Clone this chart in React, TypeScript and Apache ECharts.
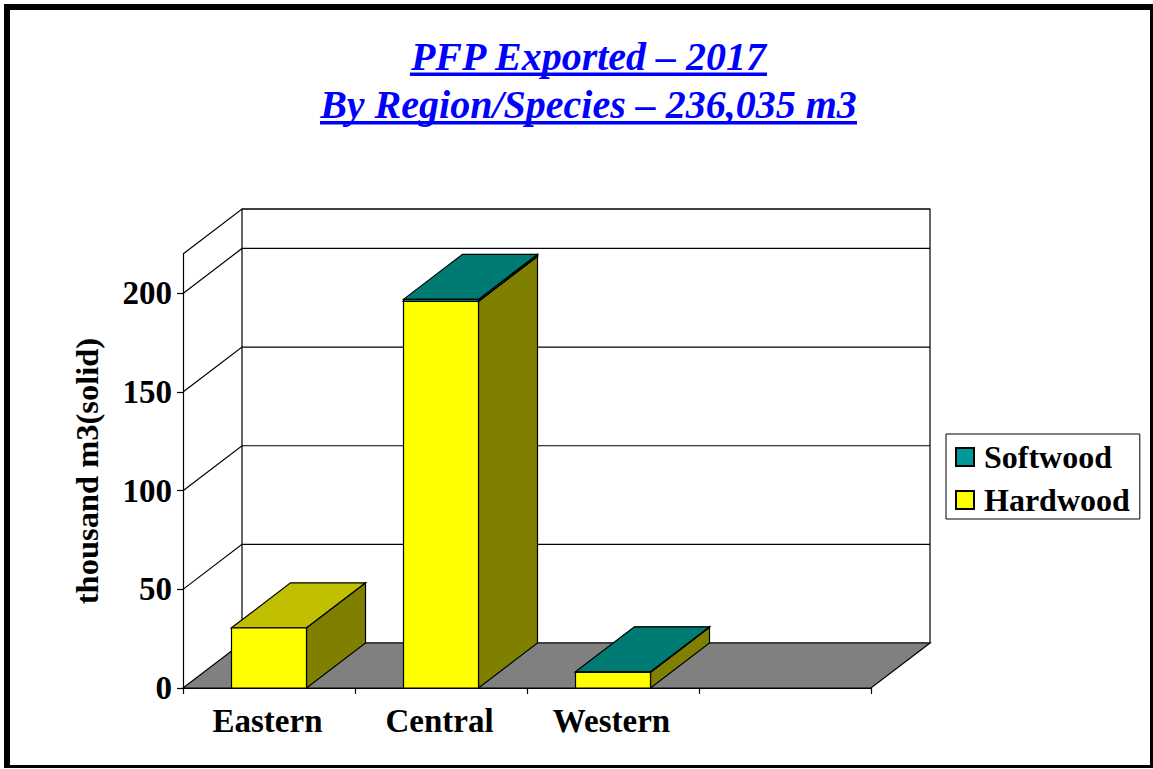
import React, { useEffect, useRef } from "react";
import * as echarts from "echarts";

const categories = ["Eastern", "Central", "Western", ""];
const hardwood = [30.5, 196, 8, 0];
const softwood = [0, 1, 0.2, 0];
const yTicks = [0, 50, 100, 150, 200];
const yMax = 220;
const titleLines = ["PFP Exported \u2013 2017", "By Region/Species \u2013 236,035 m3"];
const axisName = "thousand m3(solid)";

const FONT = "Liberation Serif";
const DX = 59;
const DY = -45;
const BAR_W = 75;
const STROKE = { stroke: "#000", lineWidth: 1.2 };

const hardColors = { front: "#ffff00", side: "#808000", top: "#c0c000" };
const softColors = { front: "#009999", side: "#004c4c", top: "#007b73" };

function wallItem(params: any, api: any) {
  const v = api.value(0);
  const c = params.coordSys;
  const left = c.x;
  const right = c.x + c.width;
  const y = api.coord([0, v])[1];
  const children: any[] = [];
  if (v === 0) {
    const topY = api.coord([0, yMax])[1];
    children.push({
      type: "rect",
      shape: { x: left + DX, y: topY + DY, width: c.width, height: y - topY },
      style: { fill: "#fff", ...STROKE },
    });
    children.push({
      type: "polygon",
      shape: { points: [[left, y], [left + DX, y + DY], [right + DX, y + DY], [right, y]] },
      style: { fill: "#808080", ...STROKE },
    });
    return { type: "group", children };
  }
  children.push({
    type: "polyline",
    shape: { points: [[left, y], [left + DX, y + DY], [right + DX, y + DY]] },
    style: { fill: "none", ...STROKE },
  });
  return { type: "group", children };
}

function barItem(colors: typeof hardColors) {
  return (_params: any, api: any) => {
    const idx = api.value(0);
    const base = api.value(1);
    const val = api.value(2);
    if (!val) return null;
    const cx = api.coord([idx, 0])[0];
    const y0 = api.coord([idx, base])[1];
    const y1 = api.coord([idx, base + val])[1];
    const x0 = cx - BAR_W / 2;
    const x1 = cx + BAR_W / 2;
    return {
      type: "group",
      children: [
        {
          type: "polygon",
          shape: { points: [[x1, y0], [x1 + DX, y0 + DY], [x1 + DX, y1 + DY], [x1, y1]] },
          style: { fill: colors.side, ...STROKE },
        },
        {
          type: "polygon",
          shape: { points: [[x0, y1], [x0 + DX, y1 + DY], [x1 + DX, y1 + DY], [x1, y1]] },
          style: { fill: colors.top, ...STROKE },
        },
        {
          type: "rect",
          shape: { x: x0, y: y1, width: BAR_W, height: y0 - y1 },
          style: { fill: colors.front, ...STROKE },
        },
      ],
    };
  };
}

export default function App() {
  const ref = useRef<HTMLDivElement>(null);
  useEffect(() => {
    const chart = echarts.init(ref.current!, null, { renderer: "svg" });
    const blue = "#0000ff";
    const underline = (y: number, x: number, width: number) => ({
      type: "rect",
      silent: true,
      shape: { x, y, width, height: 3.5 },
      style: { fill: blue },
    });
    const frame = (x: number, y: number, width: number, height: number) => ({
      type: "rect",
      silent: true,
      shape: { x, y, width, height },
      style: { fill: "#000" },
    });
    chart.setOption({
      animation: false,
      backgroundColor: "#fff",
      textStyle: { fontFamily: FONT },
      title: titleLines.map((text, i) => ({
        text,
        left: 588.5,
        top: 36 + i * 48,
        textAlign: "center",
        padding: 0,
        textStyle: {
          fontFamily: FONT,
          fontSize: 40,
          fontWeight: "bold",
          fontStyle: "italic",
          color: blue,
        },
      })),
      graphic: [
        frame(4, 4, 1149, 6),
        frame(4, 4, 6, 764),
        frame(1150, 4, 3, 764),
        frame(4, 765, 1149, 3),
        underline(72.5, 410, 357),
        underline(121, 320, 537),
      ],
      legend: {
        show: true,
        orient: "vertical",
        left: 946,
        top: 434,
        padding: [7, 10, 3, 9],
        itemWidth: 18,
        itemHeight: 18,
        itemGap: 11,
        icon: "rect",
        backgroundColor: "#fff",
        borderColor: "#000",
        borderWidth: 1,
        data: ["Softwood", "Hardwood"],
        textStyle: { fontFamily: FONT, fontSize: 32, fontWeight: "bold", color: "#000", padding: [0, 0, 0, 5] },
        selectedMode: false,
      },
      grid: { left: 183, top: 254, width: 688, height: 434, containLabel: false },
      xAxis: {
        type: "category",
        data: categories,
        boundaryGap: true,
        axisLine: { lineStyle: { color: "#000", width: 1.2 } },
        axisTick: { show: true, length: 6, alignWithLabel: false, lineStyle: { color: "#000", width: 1.2 } },
        axisLabel: { interval: 0, margin: 16, padding: [0, 3, 0, 0], fontFamily: FONT, fontSize: 33, fontWeight: "bold", color: "#000" },
        splitLine: { show: false },
      },
      yAxis: {
        type: "value",
        min: 0,
        max: yMax,
        name: axisName,
        nameLocation: "middle",
        nameGap: 80,
        nameRotate: 90,
        nameTextStyle: { fontFamily: FONT, fontSize: 32.5, fontWeight: "bold", color: "#000" },
        axisLine: { show: true, lineStyle: { color: "#000", width: 1.2 } },
        axisTick: { show: true, length: 6, customValues: yTicks, lineStyle: { color: "#000", width: 1.2 } },
        axisLabel: { margin: 11, customValues: yTicks, fontFamily: FONT, fontSize: 33, fontWeight: "bold", color: "#000" },
        splitLine: { show: false },
      },
      series: [
        {
          type: "custom",
          name: "walls",
          z: 1,
          coordinateSystem: "cartesian2d",
          data: [...yTicks, yMax].map((v) => [v]),
          encode: { y: 0 },
          renderItem: wallItem,
          silent: true,
        },
        {
          type: "custom",
          name: "Hardwood",
          z: 3,
          coordinateSystem: "cartesian2d",
          itemStyle: { color: hardColors.front, borderColor: "#000", borderWidth: 1 },
          data: hardwood.map((v, i) => [i, 0, v]),
          encode: { x: 0, y: 2 },
          renderItem: barItem(hardColors),
        },
        {
          type: "custom",
          name: "Softwood",
          z: 3,
          coordinateSystem: "cartesian2d",
          itemStyle: { color: softColors.front, borderColor: "#000", borderWidth: 1 },
          data: softwood.map((v, i) => [i, hardwood[i], v]),
          encode: { x: 0, y: 2 },
          renderItem: barItem(softColors),
        },
      ],
    });
    return () => chart.dispose();
  }, []);
  return <div ref={ref} style={{ position: "fixed", left: 0, top: 0, width: 1153, height: 769 }} />;
}
